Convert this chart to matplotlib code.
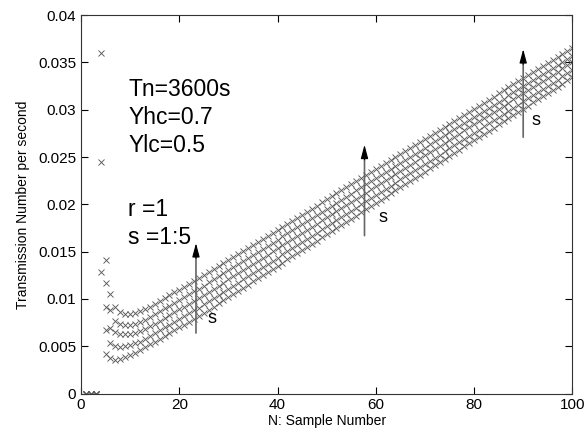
import numpy as np
import matplotlib.pyplot as plt
from matplotlib.ticker import FuncFormatter

plt.rcParams['font.family'] = ['Liberation Sans', 'DejaVu Sans']

# sample numbers
n = np.arange(1, 101)

# values, one list per s (top row first), N = 1..100
nan = np.nan
s5 = [0, 0, 0, 0.0360, 0.0141, 0.0105, 0.0092, 0.0086, 0.0084, 0.0084,
      0.0085, 0.0087, 0.0089, 0.0092, 0.0095, 0.0098, 0.0101, 0.0104, 0.0107, 0.0110,
      0.0113, 0.0116, 0.0119, 0.0122,
      0.01252, 0.01284, 0.01316, 0.01348, 0.01380, 0.01412, 0.01444, 0.01476, 0.01508, 0.01540,
      0.01572, 0.01604, 0.01636, 0.01668, 0.01700, 0.01732, 0.01764, 0.01796, 0.01828, 0.01860,
      0.01892, 0.01924, 0.01956, 0.01988, 0.02020, 0.02052, 0.02084, 0.02116, 0.02148, 0.02180,
      0.02212, 0.02244, 0.02276, 0.02308, 0.02340, 0.02372, 0.02404, 0.02436, 0.02468, 0.02500,
      0.02532, 0.02564, 0.02596, 0.02628, 0.02660, 0.02692, 0.02724, 0.02756, 0.02788, 0.02820,
      0.02852, 0.02884, 0.02916, 0.02948, 0.02980, 0.03012, 0.03044, 0.03076, 0.03108, 0.03140,
      0.03172, 0.03204, 0.03236, 0.03268, 0.03300, 0.03332, 0.03364, 0.03396, 0.03428, 0.03460,
      0.03492, 0.03524, 0.03556, 0.03588, 0.03620, 0.03652]
s4 = [0, 0, 0, 0.0245, 0.0117, 0.0088, 0.0077, 0.0074, 0.0073, 0.0073,
      0.0074, 0.0076, 0.0078, 0.0081, 0.0084, 0.0087, 0.0090, 0.0093, 0.0096, 0.0099,
      0.0102, 0.0105, 0.0108, 0.0111,
      0.01142, 0.01175, 0.01207, 0.01240, 0.01272, 0.01304, 0.01337, 0.01369, 0.01402, 0.01434,
      0.01466, 0.01499, 0.01531, 0.01564, 0.01596, 0.01628, 0.01661, 0.01693, 0.01726, 0.01758,
      0.01790, 0.01823, 0.01855, 0.01888, 0.01920, 0.01952, 0.01985, 0.02017, 0.02050, 0.02082,
      0.02114, 0.02147, 0.02179, 0.02212, 0.02244, 0.02276, 0.02309, 0.02341, 0.02374, 0.02406,
      0.02438, 0.02471, 0.02503, 0.02536, 0.02568, 0.02600, 0.02633, 0.02665, 0.02698, 0.02730,
      0.02762, 0.02795, 0.02827, 0.02860, 0.02892, 0.02924, 0.02957, 0.02989, 0.03022, 0.03054,
      0.03086, 0.03119, 0.03151, 0.03184, 0.03216, 0.03248, 0.03281, 0.03313, 0.03346, 0.03378,
      0.03410, 0.03443, 0.03475, 0.03508, 0.03540, 0.03572]
s3 = [0, 0, 0, 0.0128, 0.0092, 0.0069, 0.0065, 0.0063, 0.0063, 0.0063,
      0.0064, 0.0066, 0.0068, 0.0071, 0.0074, 0.0077, 0.0080, 0.0083, 0.0086, 0.0089,
      0.0092, 0.0095, 0.0098, 0.0101,
      0.01043, 0.01076, 0.01108, 0.01141, 0.01174, 0.01207, 0.01240, 0.01272, 0.01305, 0.01338,
      0.01371, 0.01404, 0.01436, 0.01469, 0.01502, 0.01535, 0.01568, 0.01600, 0.01633, 0.01666,
      0.01699, 0.01732, 0.01764, 0.01797, 0.01830, 0.01863, 0.01896, 0.01928, 0.01961, 0.01994,
      0.02027, 0.02060, 0.02092, 0.02125, 0.02158, 0.02191, 0.02224, 0.02256, 0.02289, 0.02322,
      0.02355, 0.02388, 0.02420, 0.02453, 0.02486, 0.02519, 0.02552, 0.02584, 0.02617, 0.02650,
      0.02683, 0.02716, 0.02748, 0.02781, 0.02814, 0.02847, 0.02880, 0.02912, 0.02945, 0.02978,
      0.03011, 0.03044, 0.03076, 0.03109, 0.03142, 0.03175, 0.03208, 0.03240, 0.03273, 0.03306,
      0.03339, 0.03372, 0.03404, 0.03437, 0.03470, 0.03503]
s2 = [0, 0, 0, nan, 0.0067, 0.0054, 0.0050, 0.0049, 0.0050, 0.0051,
      0.0053, 0.0055, 0.0058, 0.0061, 0.0064, 0.0067, 0.0070, 0.0073, 0.0076, 0.0079,
      0.0082, 0.0085, 0.0088, 0.0091,
      0.00943, 0.00976, 0.01009, 0.01042, 0.01075, 0.01108, 0.01141, 0.01174, 0.01207, 0.01240,
      0.01273, 0.01306, 0.01339, 0.01372, 0.01405, 0.01438, 0.01471, 0.01504, 0.01537, 0.01570,
      0.01603, 0.01636, 0.01669, 0.01702, 0.01735, 0.01768, 0.01801, 0.01834, 0.01867, 0.01900,
      0.01933, 0.01966, 0.01999, 0.02032, 0.02065, 0.02098, 0.02131, 0.02164, 0.02197, 0.02230,
      0.02263, 0.02296, 0.02329, 0.02362, 0.02395, 0.02428, 0.02461, 0.02494, 0.02527, 0.02560,
      0.02593, 0.02626, 0.02659, 0.02692, 0.02725, 0.02758, 0.02791, 0.02824, 0.02857, 0.02890,
      0.02923, 0.02956, 0.02989, 0.03022, 0.03055, 0.03088, 0.03121, 0.03154, 0.03187, 0.03220,
      0.03253, 0.03286, 0.03319, 0.03352, 0.03385, 0.03418]
s1 = [0, 0, 0, nan, 0.0042, 0.0038, 0.0036, 0.0037, 0.0039, 0.0041,
      0.0043, 0.0046, 0.0049, 0.0052, 0.0055, 0.0058, 0.0061, 0.0064, 0.0067, 0.0070,
      0.0073, 0.0076, 0.0079, 0.0082,
      0.00853, 0.00886, 0.00920, 0.00953, 0.00986, 0.01019, 0.01052, 0.01086, 0.01119, 0.01152,
      0.01185, 0.01218, 0.01252, 0.01285, 0.01318, 0.01351, 0.01384, 0.01418, 0.01451, 0.01484,
      0.01517, 0.01550, 0.01584, 0.01617, 0.01650, 0.01683, 0.01716, 0.01750, 0.01783, 0.01816,
      0.01849, 0.01882, 0.01916, 0.01949, 0.01982, 0.02015, 0.02048, 0.02082, 0.02115, 0.02148,
      0.02181, 0.02214, 0.02248, 0.02281, 0.02314, 0.02347, 0.02380, 0.02414, 0.02447, 0.02480,
      0.02513, 0.02546, 0.02580, 0.02613, 0.02646, 0.02679, 0.02712, 0.02746, 0.02779, 0.02812,
      0.02845, 0.02878, 0.02912, 0.02945, 0.02978, 0.03011, 0.03044, 0.03078, 0.03111, 0.03144,
      0.03177, 0.03210, 0.03244, 0.03277, 0.03310, 0.03343]

params = ['Tn=3600s', 'Yhc=0.7', 'Ylc=0.5', '', 'r =1', 's =1:5']

# arrows: (x, y start, y end, label x, label y)
arrows = [(23.4, 0.0064, 0.0159, 26.6, 0.0079),
          (57.7, 0.0167, 0.0263, 61.4, 0.0186),
          (90.0, 0.0271, 0.0364, 92.6, 0.0289)]

fig = plt.figure(figsize=(5.87, 4.33), dpi=100)
ax = fig.add_axes([0.138, 0.091, 0.837, 0.874])

for s in [s1, s2, s3, s4, s5]:
    ax.plot(n, s, 'x', color='#5a5a5a', markersize=4, markeredgewidth=0.65)

ax.set_xlim(0, 100)
ax.set_ylim(0, 0.04)
ax.set_xticks(np.arange(0, 101, 20))
ax.set_yticks(np.arange(0, 0.0401, 0.005))
ax.yaxis.set_major_formatter(FuncFormatter(lambda v, p: '%g' % round(v, 4)))
ax.tick_params(direction='in', top=True, right=True, length=5, width=0.8,
               labelsize=11, colors='black')
for sp in ax.spines.values():
    sp.set_linewidth(0.8)
    sp.set_color('#333333')

ax.set_xlabel('N: Sample Number', fontsize=10, labelpad=1)
ax.set_ylabel('Transmission Number per second', fontsize=10, labelpad=6)

ax.text(9.6, 0.0292, '\n'.join(params[:3]), fontsize=16.5, va='center',
        linespacing=1.27)
ax.text(9.6, 0.01795, '\n'.join(params[4:]), fontsize=16.5, va='center',
        linespacing=1.27)

for x, y0, y1, lx, ly in arrows:
    # grey shaft, narrow black head
    ax.annotate('', xy=(x, y1 - 0.0012), xytext=(x, y0),
                arrowprops=dict(arrowstyle='-', color='#666666', lw=1.2,
                                shrinkA=0, shrinkB=0))
    ax.annotate('', xy=(x, y1), xytext=(x, y1 - 0.0016),
                arrowprops=dict(arrowstyle='-|>,head_width=0.16,head_length=0.6',
                                color='black', lw=0.8, mutation_scale=14,
                                shrinkA=0, shrinkB=0))
    ax.text(lx, ly, 's', fontsize=13, va='center', ha='center')

plt.savefig('out.png', dpi=100)
